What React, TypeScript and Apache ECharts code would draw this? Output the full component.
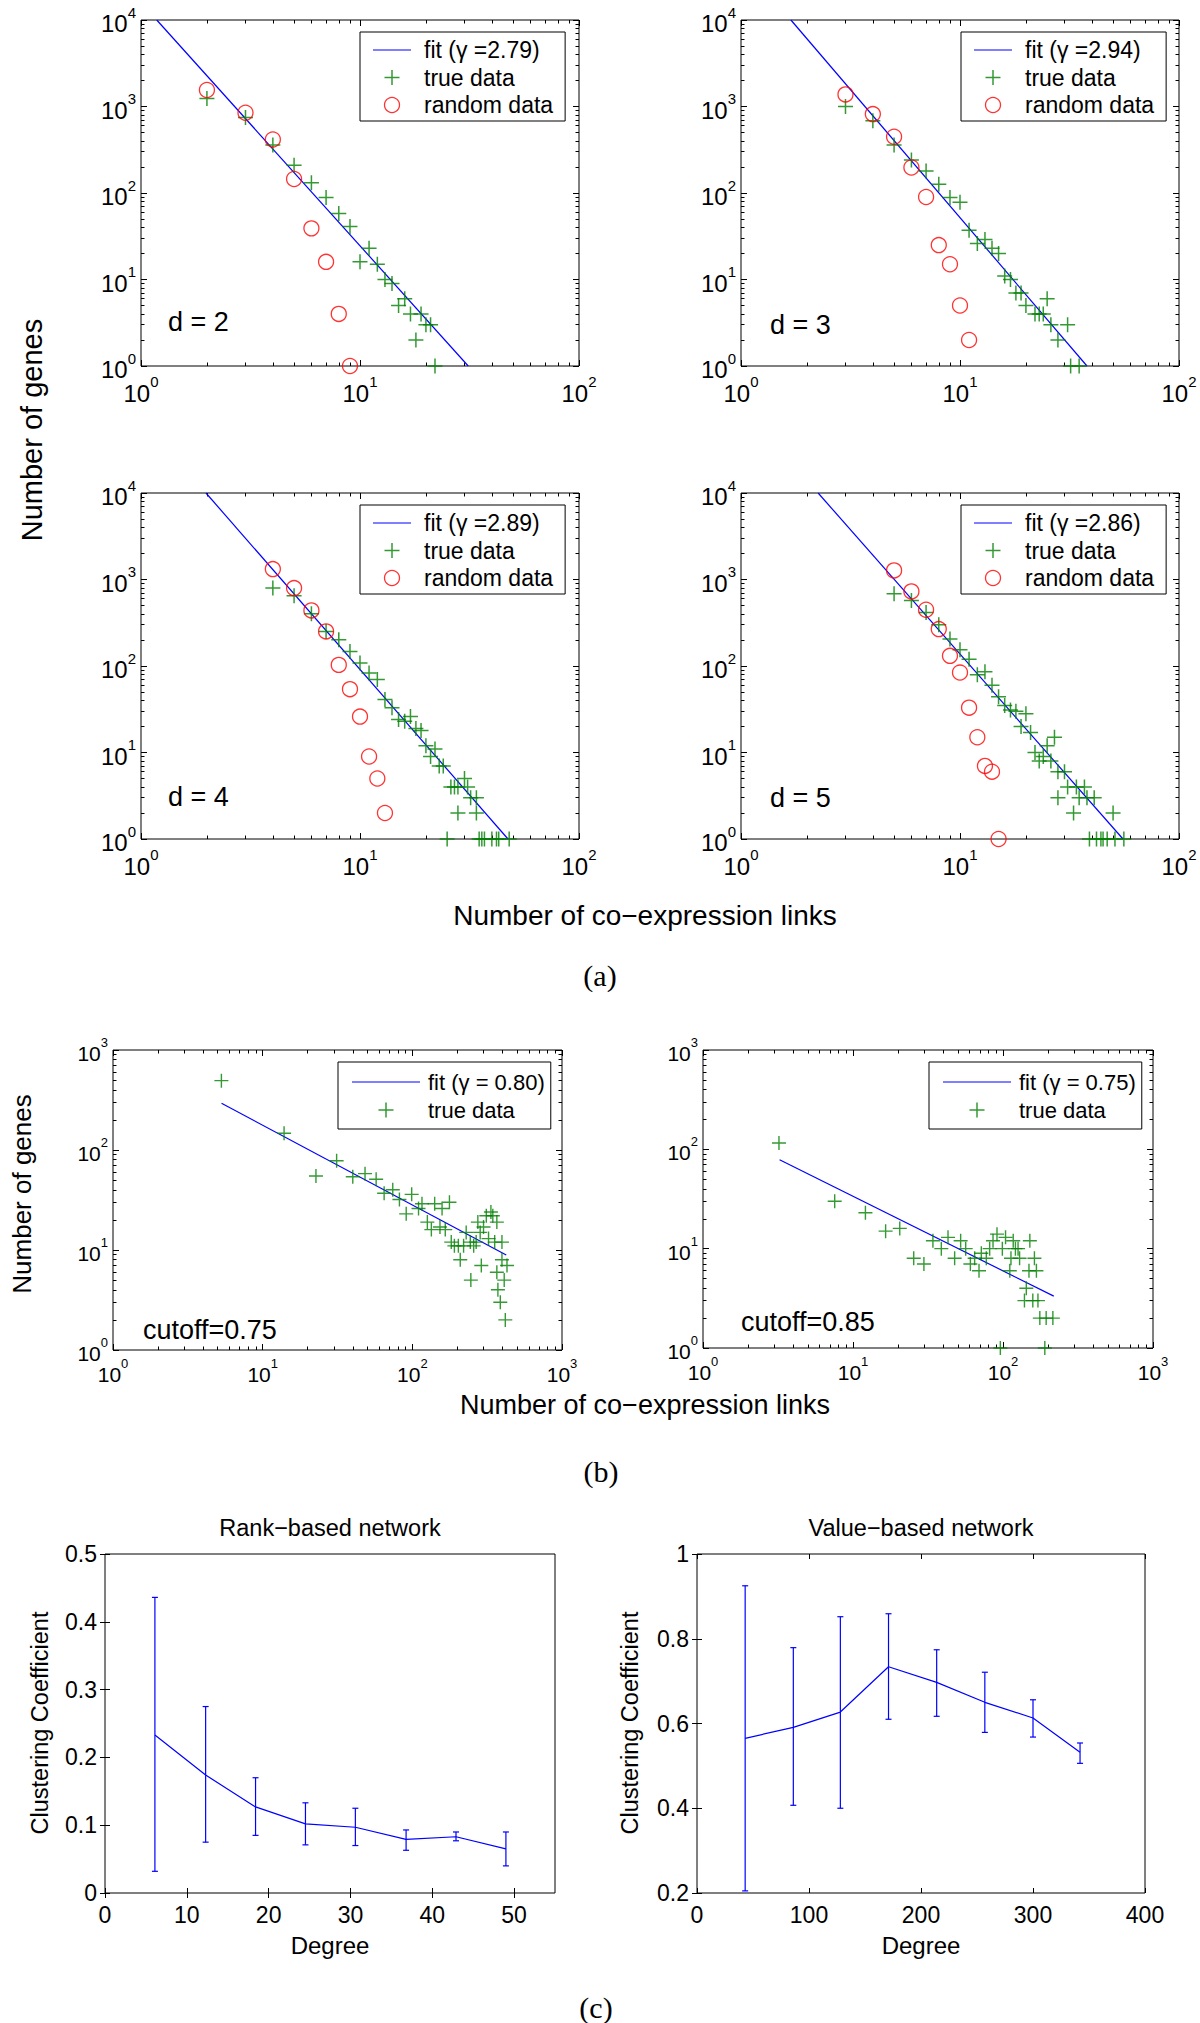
import React, { useEffect, useRef } from "react";
import * as echarts from "echarts";

const SANS = '"Liberation Sans", Arial, Helvetica, sans-serif';
const SERIF = '"Liberation Serif", "DejaVu Serif", serif';
const BLUE = "#0000ff";
const GREEN = "#008000";
const RED = "#ff0000";
const PLUS = "path://M9,0H11V9H20V11H11V20H9V11H0V9H9Z";

// ---------------- (a) d = 2 ----------------
const a1FitName = "fit (γ =2.79)";
const a1FitX = [1.18, 31.2];
const a1FitY = [10000, 1];
const a1TrueX = [2, 3, 4, 5, 6, 7, 8, 9, 11, 10, 12, 13, 14, 15, 16, 17, 19, 18, 20, 21, 22];
const a1TrueY = [1240, 748, 358, 210, 131, 89, 58, 41, 23, 16, 15, 10, 9, 5, 6, 4, 4, 2, 3, 3, 1];
const a1RandX = [2, 3, 4, 5, 6, 7, 8, 9];
const a1RandY = [1550, 847, 416, 145, 39, 16, 4, 1];

// ---------------- (a) d = 3 ----------------
const a2FitName = "fit (γ =2.94)";
const a2FitX = [1.69, 38];
const a2FitY = [10000, 1];
const a2TrueX = [3, 4, 5, 6, 7, 8, 9, 10, 11, 12, 13, 14, 15, 16, 17, 18, 19, 20, 22, 23, 24, 25, 26, 28, 31, 32, 35];
const a2TrueY = [1000, 684, 358, 240, 180, 126, 89, 78, 37, 26, 29, 23, 20, 11, 10, 7, 7, 5, 4, 4, 4, 6, 3, 2, 3, 1, 1];
const a2RandX = [3, 4, 5, 6, 7, 8, 9, 10, 11];
const a2RandY = [1380, 817, 447, 197, 90, 25, 15, 5, 2];

// ---------------- (a) d = 4 ----------------
const a3FitName = "fit (γ =2.89)";
const a3FitX = [1.98, 47.4];
const a3FitY = [10000, 1];
const a3TrueX = [4, 5, 6, 7, 8, 9, 10, 11, 12, 13, 14, 15, 16, 17, 18, 19, 20, 21, 22, 23, 24, 26, 27, 28, 30, 31, 32, 34, 28, 34, 25, 35, 36, 37, 40, 42, 43, 48];
const a3TrueY = [796, 649, 402, 251, 201, 147, 108, 83, 70, 41, 33, 24, 23, 26, 19, 18, 12, 9, 11, 7, 7, 4, 4, 4, 5, 4, 3, 3, 2, 2, 1, 1, 1, 1, 1, 1, 1, 1];
const a3RandX = [4, 5, 6, 7, 8, 9, 10, 11, 12, 13];
const a3RandY = [1320, 796, 439, 251, 103, 54, 26, 9, 5, 2];

// ---------------- (a) d = 5 ----------------
const a4FitName = "fit (γ =2.86)";
const a4FitX = [2.25, 55.5];
const a4FitY = [10000, 1];
const a4TrueX = [5, 6, 7, 8, 9, 10, 11, 12, 13, 14, 15, 16, 17, 18, 19, 20, 21, 22, 23, 24, 25, 27, 26, 28, 30, 31, 34, 37, 28, 35, 38, 41, 33, 50, 39, 42, 44, 45, 47, 51, 56];
const a4TrueY = [684, 573, 416, 299, 205, 154, 120, 79, 86, 60, 44, 35, 31, 30, 20, 28, 17, 10, 8, 9, 12, 15, 8, 6, 6, 4, 4, 4, 3, 3, 3, 3, 2, 2, 1, 1, 1, 1, 1, 1, 1];
const a4RandX = [5, 6, 7, 8, 9, 10, 11, 12, 13, 14, 15];
const a4RandY = [1274, 728, 447, 267, 131, 84, 33, 15, 7, 6, 1];

// ---------------- (b) cutoff = 0.75 ----------------
const b1FitName = "fit (γ = 0.80)";
const b1FitX = [5.31, 424];
const b1FitY = [293, 8.9];
const b1TrueX = [5.3, 13.9, 22.7, 31.2, 40, 48.3, 57.3, 64.8, 74, 82, 91, 99, 110, 116, 126, 134, 141, 153, 158, 166, 177, 182, 191, 203, 209, 220, 229, 244, 246, 257, 267, 274, 284, 289, 299, 312, 323, 335, 345, 355, 367, 367, 373, 387, 397, 411, 418, 429, 397];
const b1TrueY = [494, 147, 55, 78, 54, 58, 51, 37, 40, 32, 23, 36, 26, 29, 19, 16, 29, 17, 26, 16, 30, 12, 11, 11, 8, 11, 15, 12, 5, 11, 12, 19, 15, 7, 17, 22, 13, 24, 22, 12, 19, 6, 4, 3, 8, 5, 2, 7, 12];

// ---------------- (b) cutoff = 0.85 ----------------
const b2FitName = "fit (γ = 0.75)";
const b2FitX = [3.24, 218];
const b2FitY = [78.4, 3.33];
const b2TrueX = [3.21, 7.55, 12.1, 16.5, 20.5, 25.4, 29.7, 34.1, 38.8, 43, 47.6, 52.2, 56.4, 60.6, 64.7, 69.2, 71.7, 77.4, 81.5, 85.8, 91.2, 96, 99, 104, 111, 113, 117, 121, 126, 129, 143, 139, 149, 151, 158, 162, 167, 171, 176, 190, 194, 215];
const b2TrueY = [116, 30, 23, 15, 16, 8, 7, 12, 10, 13, 8, 12, 10, 7, 8, 6, 9, 8, 10, 12, 14, 1, 10, 13, 6, 8, 12, 10, 10, 8, 4, 3, 6, 12, 3, 8, 6, 3, 2, 1, 2, 2];

// ---------------- (c) clustering coefficient ----------------
const c1Degree = [6.1, 12.3, 18.4, 24.5, 30.6, 36.8, 42.9, 49.0];
const c1Mean = [0.233, 0.174, 0.127, 0.102, 0.097, 0.079, 0.083, 0.065];
const c1Upper = [0.436, 0.275, 0.17, 0.133, 0.125, 0.093, 0.09, 0.09];
const c1Lower = [0.032, 0.075, 0.085, 0.071, 0.07, 0.063, 0.077, 0.04];

const c2Degree = [43, 86, 128, 171, 214, 257, 300, 342];
const c2Mean = [0.565, 0.591, 0.627, 0.734, 0.697, 0.65, 0.613, 0.532];
const c2Upper = [0.925, 0.779, 0.852, 0.859, 0.774, 0.721, 0.656, 0.554];
const c2Lower = [0.205, 0.407, 0.4, 0.61, 0.617, 0.579, 0.568, 0.506];

const c1XTicks = [0, 10, 20, 30, 40, 50];
const c1YTicks = [0, 0.1, 0.2, 0.3, 0.4, 0.5];
const c2XTicks = [0, 100, 200, 300, 400];
const c2YTicks = [0.2, 0.4, 0.6, 0.8, 1];

// ---------------- helpers ----------------
const zip = (xs: number[], ys: number[]) => xs.map((x, i) => [x, ys[i]]);
const decades = (e0: number, e1: number) => {
  const r: number[] = [];
  for (let e = e0; e <= e1; e++) r.push(Math.pow(10, e));
  return r;
};
const minorTicks = (e0: number, e1: number) => {
  const r: number[] = [];
  for (let e = e0; e < e1; e++) for (let k = 2; k < 10; k++) r.push(k * Math.pow(10, e));
  return r;
};

function makeOption() {
  const grid: any[] = [];
  const xAxis: any[] = [];
  const yAxis: any[] = [];
  const series: any[] = [];
  const legend: any[] = [];
  const graphic: any[] = [];
  const tickLine = { color: "#000", width: 1 };

  function logPanel(L: any) {
    const gi = grid.length;
    grid.push({ left: L.left, top: L.top, width: L.width, height: L.height, show: true, borderColor: "#000", borderWidth: 1, backgroundColor: "transparent" });
    const rich = {
      b: { fontSize: L.fs, fontFamily: SANS, color: "#000", lineHeight: L.lh, verticalAlign: "bottom" },
      s: { fontSize: L.ss, fontFamily: SANS, color: "#000", lineHeight: L.ss, verticalAlign: "top" },
    };
    const fmt = (v: number) => `{b|10}{s|${Math.round(Math.log10(v))}}`;
    const mk = (pos: string, ext: number[], ticks: number[], len: number, labels: boolean, margin: number) => ({
      gridIndex: gi,
      type: "log",
      logBase: 10,
      min: Math.pow(10, ext[0]),
      max: Math.pow(10, ext[1]),
      position: pos,
      axisLine: { show: false },
      splitLine: { show: false },
      minorTick: { show: false },
      axisTick: { show: true, inside: true, length: len, customValues: ticks, lineStyle: tickLine },
      axisLabel: labels
        ? { show: true, customValues: ticks, formatter: fmt, rich, margin, showMinLabel: true, showMaxLabel: true }
        : { show: false },
    });
    const xi = xAxis.length;
    xAxis.push(
      mk("bottom", L.xe, decades(L.xe[0], L.xe[1]), 6, true, L.xm),
      mk("bottom", L.xe, minorTicks(L.xe[0], L.xe[1]), 3.5, false, 0),
      mk("top", L.xe, decades(L.xe[0], L.xe[1]), 6, false, 0),
      mk("top", L.xe, minorTicks(L.xe[0], L.xe[1]), 3.5, false, 0)
    );
    const yi = yAxis.length;
    yAxis.push(
      mk("left", L.ye, decades(L.ye[0], L.ye[1]), 6, true, L.ym),
      mk("left", L.ye, minorTicks(L.ye[0], L.ye[1]), 3.5, false, 0),
      mk("right", L.ye, decades(L.ye[0], L.ye[1]), 6, false, 0),
      mk("right", L.ye, minorTicks(L.ye[0], L.ye[1]), 3.5, false, 0)
    );
    return { xi, yi };
  }

  function linPanel(L: any) {
    const gi = grid.length;
    grid.push({ left: L.left, top: L.top, width: L.width, height: L.height, show: true, borderColor: "#000", borderWidth: 1, backgroundColor: "transparent" });
    const mk = (pos: string, ext: number[], ticks: number[], labels: boolean, margin: number) => ({
      gridIndex: gi,
      type: "value",
      min: ext[0],
      max: ext[1],
      position: pos,
      axisLine: { show: false },
      splitLine: { show: false },
      axisTick: { show: true, inside: true, length: 5, customValues: ticks, lineStyle: tickLine },
      axisLabel: labels
        ? { show: true, customValues: ticks, fontSize: 23, fontFamily: SANS, color: "#000", margin, showMinLabel: true, showMaxLabel: true }
        : { show: false },
    });
    const xi = xAxis.length;
    xAxis.push(mk("bottom", L.xr, L.xt, true, 10), mk("top", L.xr, L.xt, false, 0));
    const yi = yAxis.length;
    yAxis.push(mk("left", L.yr, L.yt, true, 8), mk("right", L.yr, L.yt, false, 0));
    return { xi, yi };
  }

  const fitS = (ix: any, name: string, xs: number[], ys: number[]) => ({
    type: "line", name, xAxisIndex: ix.xi, yAxisIndex: ix.yi, data: zip(xs, ys),
    symbol: "none", showSymbol: false, lineStyle: { color: BLUE, width: 1.2 }, itemStyle: { color: BLUE }, z: 2, silent: true,
  });
  const trueS = (ix: any, xs: number[], ys: number[], size: number) => ({
    type: "scatter", name: "true data", xAxisIndex: ix.xi, yAxisIndex: ix.yi, data: zip(xs, ys),
    symbol: PLUS, symbolSize: size, itemStyle: { color: GREEN }, clip: false, z: 3, silent: true,
  });
  const randS = (ix: any, xs: number[], ys: number[]) => ({
    type: "scatter", name: "random data", xAxisIndex: ix.xi, yAxisIndex: ix.yi, data: zip(xs, ys),
    symbol: "circle", symbolSize: 15, itemStyle: { color: "rgba(0,0,0,0)", borderColor: RED, borderWidth: 1.3 }, clip: false, z: 4, silent: true,
  });

  const legendItems = (fitName: string, iw: number, withRandom: boolean) => {
    const d: any[] = [
      { name: fitName, icon: `path://M0,0H${iw}V1.2H0Z`, itemStyle: { color: BLUE, borderWidth: 0 } },
      { name: "true data", icon: PLUS, itemStyle: { color: GREEN, borderWidth: 0 } },
    ];
    if (withRandom) d.push({ name: "random data", icon: "circle", itemStyle: { color: "rgba(0,0,0,0)", borderColor: RED, borderWidth: 1.3 } });
    return d;
  };
  const addLegend = (left: number, top: number, iw: number, pad: number[], tp: number, fs: number, gap: number, data: any[]) =>
    legend.push({
      left, top, orient: "vertical", itemWidth: iw, itemHeight: 15, itemGap: gap, padding: pad,
      borderColor: "#000", borderWidth: 1, backgroundColor: "#fff", selectedMode: false, z: 6,
      textStyle: { fontSize: fs, fontFamily: SANS, color: "#000", lineHeight: 27, padding: [0, 0, 0, tp] },
      data,
    });

  // ---- (a) panels
  const aPanels = [
    { left: 141, top: 20, fit: [a1FitName, a1FitX, a1FitY], t: [a1TrueX, a1TrueY], r: [a1RandX, a1RandY], lg: [360, 32] },
    { left: 741, top: 20, fit: [a2FitName, a2FitX, a2FitY], t: [a2TrueX, a2TrueY], r: [a2RandX, a2RandY], lg: [961, 32] },
    { left: 141, top: 493, fit: [a3FitName, a3FitX, a3FitY], t: [a3TrueX, a3TrueY], r: [a3RandX, a3RandY], lg: [360, 505] },
    { left: 741, top: 493, fit: [a4FitName, a4FitX, a4FitY], t: [a4TrueX, a4TrueY], r: [a4RandX, a4RandY], lg: [961, 505] },
  ];
  aPanels.forEach((p: any) => {
    const ix = logPanel({ left: p.left, top: p.top, width: 438, height: 346, xe: [0, 2], ye: [0, 4], fs: 24, ss: 15, lh: 31, xm: 8, ym: 5 });
    series.push(fitS(ix, p.fit[0], p.fit[1], p.fit[2]));
    series.push(trueS(ix, p.t[0], p.t[1], 15));
    series.push(randS(ix, p.r[0], p.r[1]));
    addLegend(p.lg[0], p.lg[1], 38, [4.5, 12, 2.5, 13], 8, 23, 0.5, legendItems(p.fit[0], 38, true));
  });

  // ---- (b) panels
  const bPanels = [
    { left: 113, top: 1050, width: 449, height: 300, fit: [b1FitName, b1FitX, b1FitY], t: [b1TrueX, b1TrueY], lg: [338, 1062] },
    { left: 703, top: 1050, width: 450, height: 298, fit: [b2FitName, b2FitX, b2FitY], t: [b2TrueX, b2TrueY], lg: [929, 1062] },
  ];
  bPanels.forEach((p: any) => {
    const ix = logPanel({ left: p.left, top: p.top, width: p.width, height: p.height, xe: [0, 3], ye: [0, 3], fs: 21, ss: 13, lh: 28, xm: 7, ym: 5 });
    series.push(fitS(ix, p.fit[0], p.fit[1], p.fit[2]));
    series.push(trueS(ix, p.t[0], p.t[1], 14));
    addLegend(p.lg[0], p.lg[1], 68, [6.5, 6, 5.5, 14], 3, 22, 1, legendItems(p.fit[0], 68, false));
  });

  // ---- (c) panels
  const errS = (ix: any, xs: number[], lo: number[], hi: number[]) => ({
    type: "custom", xAxisIndex: ix.xi, yAxisIndex: ix.yi, silent: true, z: 3,
    data: xs.map((x, i) => [x, lo[i], hi[i]]),
    encode: { x: 0, y: [1, 2] },
    renderItem: (params: any, api: any) => {
      const x = api.value(0);
      const a = api.coord([x, api.value(1)]);
      const b = api.coord([x, api.value(2)]);
      const w = 3;
      const st = { stroke: BLUE, lineWidth: 1.2 };
      return {
        type: "group",
        children: [
          { type: "line", shape: { x1: a[0], y1: a[1], x2: b[0], y2: b[1] }, style: st },
          { type: "line", shape: { x1: a[0] - w, y1: a[1], x2: a[0] + w, y2: a[1] }, style: st },
          { type: "line", shape: { x1: b[0] - w, y1: b[1], x2: b[0] + w, y2: b[1] }, style: st },
        ],
      };
    },
  });
  const meanS = (ix: any, xs: number[], ys: number[]) => ({
    type: "line", xAxisIndex: ix.xi, yAxisIndex: ix.yi, data: zip(xs, ys), symbol: "none", showSymbol: false,
    lineStyle: { color: BLUE, width: 1.2 }, z: 2, silent: true,
  });
  const c1 = linPanel({ left: 105, top: 1554, width: 450, height: 339, xr: [0, 55], xt: c1XTicks, yr: [0, 0.5], yt: c1YTicks });
  series.push(meanS(c1, c1Degree, c1Mean), errS(c1, c1Degree, c1Lower, c1Upper));
  const c2 = linPanel({ left: 697, top: 1554, width: 448, height: 339, xr: [0, 400], xt: c2XTicks, yr: [0.2, 1], yt: c2YTicks });
  series.push(meanS(c2, c2Degree, c2Mean), errS(c2, c2Degree, c2Lower, c2Upper));

  // ---- texts
  const txt = (x: number, y: number, text: string, size: number, opt: any = {}) => ({
    type: "text", x, y, silent: true, rotation: opt.rot || 0,
    style: {
      text, fontSize: size, fontFamily: opt.family || SANS, fill: "#000",
      align: opt.align || "center", verticalAlign: "middle",
      textAlign: opt.align || "center", textVerticalAlign: "middle",
    },
  });
  const R = Math.PI / 2;
  graphic.push(
    txt(168, 322, "d = 2", 27, { align: "left" }),
    txt(770, 325, "d = 3", 27, { align: "left" }),
    txt(168, 797, "d = 4", 27, { align: "left" }),
    txt(770, 798, "d = 5", 27, { align: "left" }),
    txt(32, 430, "Number of genes", 29, { rot: R }),
    txt(645, 915, "Number of co−expression links", 28),
    txt(600, 975, "(a)", 30, { family: SERIF }),
    txt(143, 1330, "cutoff=0.75", 27, { align: "left" }),
    txt(741, 1322, "cutoff=0.85", 27, { align: "left" }),
    txt(22, 1194, "Number of genes", 26, { rot: R }),
    txt(645, 1405, "Number of co−expression links", 27),
    txt(601, 1471, "(b)", 30, { family: SERIF }),
    txt(330, 1528, "Rank−based network", 23.5),
    txt(921, 1528, "Value−based network", 23.5),
    txt(40, 1723, "Clustering Coefficient", 23.5, { rot: R }),
    txt(630, 1723, "Clustering Coefficient", 23.5, { rot: R }),
    txt(330, 1945, "Degree", 24),
    txt(921, 1945, "Degree", 24),
    txt(596, 2007, "(c)", 30, { family: SERIF })
  );

  return {
    animation: false,
    backgroundColor: "#fff",
    grid, xAxis, yAxis, series, legend,
    graphic: { elements: graphic },
  };
}

export default function App() {
  const ref = useRef<HTMLDivElement>(null);
  useEffect(() => {
    if (!ref.current) return;
    const chart = echarts.init(ref.current, null, { renderer: "svg" });
    chart.setOption(makeOption() as any);
    return () => chart.dispose();
  }, []);
  return <div ref={ref} style={{ position: "absolute", left: 0, top: 0, width: 1200, height: 2023, background: "#fff" }} />;
}
